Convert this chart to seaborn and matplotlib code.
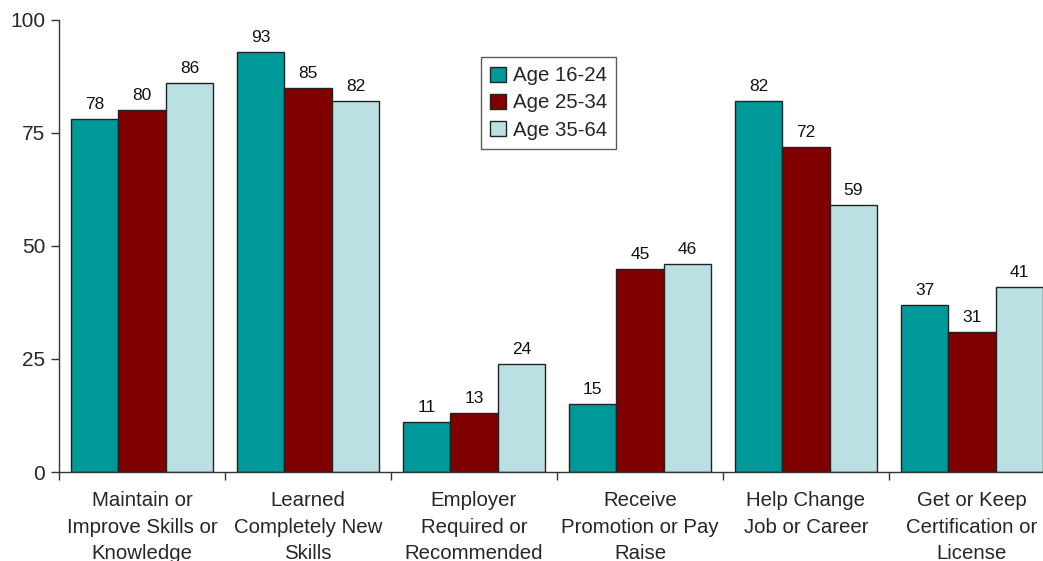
import matplotlib
matplotlib.use("Agg")
import matplotlib.pyplot as plt
import seaborn as sns
import pandas as pd
from matplotlib.ticker import FixedLocator

categories = [
    "Maintain or\nImprove Skills or\nKnowledge",
    "Learned\nCompletely New\nSkills",
    "Employer\nRequired or\nRecommended",
    "Receive\nPromotion or Pay\nRaise",
    "Help Change\nJob or Career",
    "Get or Keep\nCertification or\nLicense",
]
groups = ["Age 16-24", "Age 25-34", "Age 35-64"]
age_16_24 = [78, 93, 11, 15, 82, 37]
age_25_34 = [80, 85, 13, 45, 72, 31]
age_35_64 = [86, 82, 24, 46, 59, 41]
colors = ["#009999", "#800000", "#BBE0E3"]
yticks = [0, 25, 50, 75, 100]

rows = []
for g, vals in zip(groups, [age_16_24, age_25_34, age_35_64]):
    for c, v in zip(categories, vals):
        rows.append({"category": c, "group": g, "value": v})
df = pd.DataFrame(rows)

sns.set_theme(style="white")
plt.rcParams["font.family"] = ["Liberation Sans", "DejaVu Sans"]

fig = plt.figure(figsize=(10.43, 5.61), dpi=100)
ax = fig.add_axes([59 / 1043, 1 - 472 / 561, (1055 - 59) / 1043, (472 - 20) / 561])

sns.barplot(data=df, x="category", y="value", hue="group", hue_order=groups,
            palette=colors, width=0.857, edgecolor="#222222", linewidth=1.0,
            saturation=1, ax=ax, legend=True)

for cont in ax.containers:
    ax.bar_label(cont, fmt="%d", padding=5, fontsize=12.5, color="#111111")

ax.set_xlim(-0.5, len(categories) - 0.5)
ax.set_ylim(0, 100)
ax.set_yticks(yticks)
ax.set_yticklabels([str(t) for t in yticks], fontsize=15)
ax.set_xlabel("")
ax.set_ylabel("")
ax.tick_params(axis="x", which="major", length=0, pad=14, labelsize=14.7)
ax.xaxis.set_minor_locator(FixedLocator([i + 0.5 for i in range(-1, len(categories))]))
ax.tick_params(axis="x", which="minor", length=6, width=1, color="#333333", bottom=True)
ax.tick_params(axis="y", length=6, width=1, color="#333333", left=True, pad=4)
for lab in ax.get_xticklabels():
    lab.set_linespacing(1.5)

for s in ["top", "right"]:
    ax.spines[s].set_visible(False)
for s in ["left", "bottom"]:
    ax.spines[s].set_color("#333333")
    ax.spines[s].set_linewidth(1)

leg = ax.legend(loc="upper left", bbox_to_anchor=((481 - 59) / 996, 1 - (57 - 20) / 452),
                fontsize=14.7, frameon=True, fancybox=False, edgecolor="#333333",
                handlelength=0.75, handleheight=0.75, handletextpad=0.35,
                labelspacing=0.4, borderpad=0.45, borderaxespad=0)
leg.get_frame().set_linewidth(1)

fig.savefig("out.png", dpi=100)
